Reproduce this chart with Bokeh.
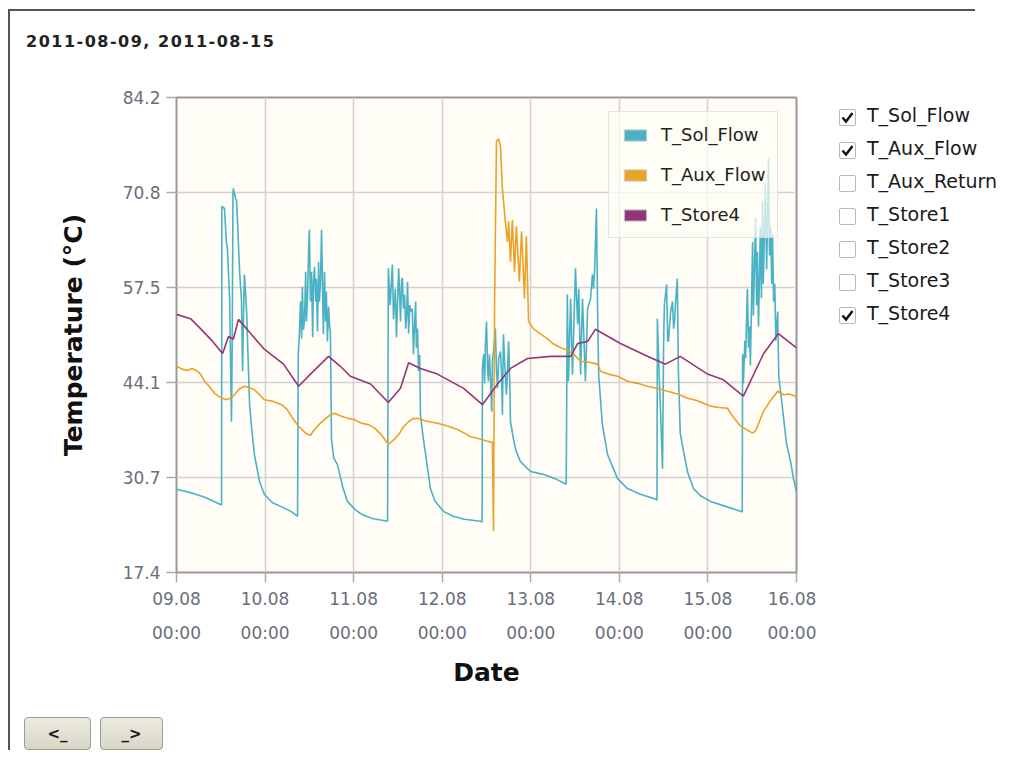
from bokeh.plotting import figure
from bokeh.models import (Range1d, FixedTicker, Legend, LegendItem, Div, Button,
                          CheckboxGroup, InlineStyleSheet)
from bokeh.layouts import column, row
from bokeh.embed import file_html
from bokeh.resources import INLINE

# ---------------- data ----------------
title_text = "2011-08-09, 2011-08-15"
series_names = ["T_Sol_Flow", "T_Aux_Flow", "T_Store4"]
series_colors = ["#4bb2c5", "#eaa228", "#953579"]
checkbox_labels = ["T_Sol_Flow", "T_Aux_Flow", "T_Aux_Return", "T_Store1",
                   "T_Store2", "T_Store3", "T_Store4"]
checkbox_active = [0, 1, 6]
button_labels = ["<_", "_>"]

# hours since 09.08 00:00
x_ticks = [0, 24, 48, 72, 96, 120, 144, 168]
x_tick_labels = ["09.08\n00:00", "10.08\n00:00", "11.08\n00:00", "12.08\n00:00",
                 "13.08\n00:00", "14.08\n00:00", "15.08\n00:00", "16.08\n00:00"]
y_ticks = [17.4, 30.7, 44.1, 57.5, 70.8, 84.2]
y_tick_labels = ["17.4", "30.7", "44.1", "57.5", "70.8", "84.2"]

# T_Sol_Flow (hour, degC)
sol_flow = [
    (0.0, 29.1), (4.0, 28.6), (8.0, 27.9), (12.2, 26.9),
    (12.3, 68.9), (13.0, 68.6), (13.5, 64.0), (13.8, 62.9), (14.4, 55.9), (14.7, 45.0),
    (14.9, 38.6), (15.1, 50.0), (15.3, 70.5), (15.4, 71.4), (16.0, 70.0), (16.3, 69.6),
    (17.1, 59.7), (17.6, 55.9), (17.9, 45.7), (18.1, 52.0), (18.4, 59.3), (19.0, 54.1),
    (19.8, 41.0),
    (20.4, 37.5), (21.1, 34.0), (22.5, 30.2), (23.8, 28.4), (26.0, 27.2), (28.2, 26.7),
    (31.0, 26.0), (32.8, 25.3),
    (33.0, 48.1), (33.3, 51.0), (33.6, 55.5), (33.9, 50.3), (34.1, 57.6), (34.4, 51.5),
    (34.7, 53.0), (35.0, 59.7), (35.2, 52.7), (35.5, 56.0), (35.8, 62.5), (36.0, 65.6),
    (36.3, 55.5), (36.6, 59.7), (36.9, 50.5), (37.1, 58.0), (37.4, 60.4), (37.7, 55.5),
    (37.9, 58.7), (38.2, 51.3), (38.5, 61.1), (38.7, 55.5), (39.0, 58.0), (39.3, 65.6),
    (39.6, 56.9), (39.8, 50.9), (40.1, 59.7), (40.4, 52.7), (40.6, 56.9), (40.9, 49.9),
    (41.2, 54.8), (41.5, 52.0), (41.7, 51.3), (42.0, 36.2),
    (42.6, 33.5), (43.6, 32.6), (45.0, 29.5), (46.3, 27.4), (48.5, 26.2), (50.1, 25.6),
    (53.0, 25.0), (57.2, 24.6),
    (57.4, 60.2), (57.9, 55.0), (58.5, 60.7), (58.8, 53.0), (59.3, 57.3), (59.6, 50.5),
    (60.2, 60.2), (60.5, 56.0), (60.7, 52.7), (61.0, 58.5), (61.2, 58.8), (61.5, 54.5),
    (61.8, 56.5), (62.1, 51.7), (62.4, 54.0), (62.6, 58.3), (62.9, 51.0), (63.2, 55.0),
    (63.4, 54.1), (63.9, 54.5), (64.2, 48.1), (64.5, 52.0), (64.8, 55.5), (65.0, 49.0),
    (65.3, 51.7), (65.6, 45.7), (65.9, 48.0), (66.1, 39.6),
    (66.8, 36.5), (67.5, 34.0), (68.8, 29.2), (70.0, 27.5), (72.3, 26.0), (75.0, 25.3),
    (78.0, 24.9), (82.4, 24.6), (82.8, 24.5),
    (82.9, 46.1), (83.2, 48.1), (83.5, 44.0), (83.7, 49.5), (84.0, 52.7), (84.3, 46.0),
    (84.5, 44.3), (84.8, 48.1), (85.1, 44.5), (85.4, 40.0), (85.6, 47.0), (86.0, 49.0),
    (86.4, 51.7), (86.7, 46.0), (87.0, 43.3), (87.3, 47.5), (87.8, 48.5), (88.1, 45.0),
    (88.3, 39.6), (88.6, 50.9), (88.9, 47.0), (89.4, 42.4), (89.7, 46.0), (90.0, 49.9),
    (90.3, 44.0), (90.5, 38.6),
    (91.3, 36.2), (92.0, 34.5), (93.2, 33.0), (95.9, 31.6), (99.4, 31.2), (103.0, 30.5),
    (105.6, 29.8),
    (105.9, 56.5), (106.2, 44.3), (106.8, 55.9), (107.3, 45.2), (108.1, 60.2), (108.7, 52.3),
    (109.0, 57.3), (109.5, 45.2), (110.0, 55.9), (110.3, 51.7), (110.8, 44.3), (111.4, 54.5),
    (112.2, 55.9), (112.7, 59.3), (113.0, 57.3), (113.3, 60.0), (113.8, 68.6), (114.1, 54.5),
    (114.4, 45.2),
    (115.4, 38.2), (116.8, 34.0), (119.5, 30.6), (122.2, 29.2), (125.7, 28.4), (129.3, 27.8),
    (130.2, 27.6),
    (130.3, 53.1), (130.8, 45.0), (131.1, 41.0), (131.5, 35.0), (131.7, 32.0), (132.0, 50.0),
    (132.2, 55.0), (132.8, 57.9), (133.1, 50.0), (133.3, 49.9), (133.9, 54.1), (134.4, 55.5),
    (134.7, 51.7), (135.0, 53.0), (135.2, 55.1), (135.7, 58.7), (136.0, 45.7), (136.5, 37.0),
    (137.4, 34.4), (138.5, 31.5), (140.1, 29.2), (142.0, 28.2), (144.7, 27.4), (148.8, 26.7),
    (152.8, 26.0), (153.3, 25.9),
    (153.4, 48.1), (153.6, 44.0), (154.0, 50.0), (154.2, 47.5), (154.7, 57.3), (155.0, 49.0),
    (155.3, 52.0), (155.5, 46.5), (155.8, 55.0), (156.1, 63.9), (156.3, 53.5), (156.6, 60.0),
    (156.9, 67.2), (157.2, 55.0), (157.4, 62.5), (157.7, 52.0), (158.0, 60.0), (158.2, 66.0),
    (158.5, 56.0), (158.8, 69.6), (159.0, 58.0), (159.3, 65.0), (159.6, 72.0), (159.9, 60.0),
    (160.2, 68.0), (160.4, 75.6), (160.7, 62.0), (161.0, 66.0), (161.3, 58.0), (161.5, 64.9),
    (161.8, 55.5), (162.1, 58.0), (162.4, 50.0), (162.9, 54.1), (163.2, 45.0),
    (164.2, 40.5), (165.3, 35.5), (166.4, 33.0), (167.2, 30.5), (168.0, 28.8),
]
sol_h = [h for h, v in sol_flow]
sol_v = [v for h, v in sol_flow]

# T_Aux_Flow
aux_h = [0, 1.5, 3.0, 4.2, 5.7, 6.5, 7.6, 9.0, 10.3, 12.0,
         13.5, 14.6, 15.7, 17.0, 18.4, 19.8, 21.1, 22.5, 23.8, 26.0,
         28.5, 30.0, 31.2, 33.0, 35.2, 36.3, 37.4, 38.8, 40.1, 41.5,
         42.8, 44.5, 46.3, 48.2, 50.1, 52.0, 53.7, 55.5, 57.4, 58.8,
         60.2, 61.5, 62.9, 64.0, 65.3, 67.5, 70.7, 73.5, 76.1, 78.0,
         79.7, 82.0, 84.0, 85.6, 85.9, 86.2, 86.7, 87.3, 87.8, 88.3,
         89.1, 89.7, 90.0, 90.5, 91.0, 91.6, 92.1, 92.9, 93.5, 94.3,
         94.8, 95.4, 96.7, 98.5, 100.5, 102.0, 104.1, 105.8, 107.6, 109.5,
         111.5, 114.1, 114.9, 117.0, 119.5, 122.2, 125.0, 127.5, 130.3, 133.0,
         135.8, 138.5, 141.0, 142.8, 144.7, 147.0, 149.3, 150.5, 152.8, 154.5,
         156.1, 157.0, 159.1, 161.0, 162.9, 164.5, 166.0, 168.0]
aux_v = [46.4, 46.0, 45.8, 46.1, 45.7, 45.3, 44.3, 43.5, 42.6, 42.0,
         41.7, 41.9, 42.4, 43.2, 43.6, 43.4, 43.1, 42.4, 41.7, 41.5,
         41.0, 40.3, 39.3, 38.0, 36.9, 36.7, 37.5, 38.3, 38.9, 39.5,
         39.8, 39.4, 39.1, 38.9, 38.4, 38.2, 37.7, 36.8, 35.4, 36.0,
         36.8, 37.9, 38.6, 39.0, 39.1, 38.7, 38.4, 38.0, 37.5, 37.0,
         36.5, 36.2, 35.9, 35.7, 23.2, 55.5, 78.0, 78.4, 77.3, 71.4,
         66.8, 63.9, 66.8, 61.1, 67.0, 59.7, 66.1, 58.3, 65.4, 55.9,
         64.7, 52.7, 51.7, 51.0, 50.3, 49.6, 49.0, 48.7, 48.1, 47.1,
         47.0, 46.7, 45.7, 45.3, 45.0, 44.3, 44.0, 43.6, 43.3, 42.9,
         42.5, 41.9, 41.6, 41.2, 40.8, 40.6, 40.5, 39.5, 38.0, 37.5,
         37.0, 37.4, 40.1, 41.6, 42.9, 42.4, 42.5, 42.1]

# T_Store4
store_h = [0, 3.8, 6.5, 9.8, 12.5, 14.1, 15.4, 16.8, 20.1, 23.6,
           26.3, 29.0, 33.1, 36.3, 41.2, 44.4, 47.1, 52.6, 57.4, 60.7,
           62.9, 66.1, 70.7, 77.8, 82.9, 87.0, 90.5, 95.1, 101.3, 106.8,
           108.7, 111.4, 113.5, 120.3, 127.6, 132.5, 136.5, 143.9, 148.2, 153.6,
           159.1, 163.1, 168.0]
store_v = [53.7, 53.1, 51.7, 49.9, 48.2, 50.6, 50.2, 53.0, 51.0, 48.9,
           47.8, 46.7, 43.6, 45.3, 47.8, 46.4, 45.0, 43.9, 41.3, 43.3,
           46.9, 46.1, 45.3, 43.3, 41.0, 43.9, 46.1, 47.5, 47.8, 47.8,
           49.6, 49.9, 51.6, 49.6, 47.8, 46.7, 47.8, 45.3, 44.5, 42.2,
           48.2, 51.0, 49.0]

# ---------------- figure ----------------
p = figure(frame_width=620, frame_height=475,
           min_border_left=166, min_border_top=36, min_border_right=20, min_border_bottom=125,
           x_range=Range1d(0, 168), y_range=Range1d(17.4, 84.2),
           output_backend="svg", toolbar_location=None,
           background_fill_color="#fffdf6", border_fill_color="white",
           outline_line_color="#999999", outline_line_width=2,
           x_axis_label="Date", y_axis_label="Temperature (°C)",
           margin=(8, 0, 0, 0))

p.xaxis.ticker = FixedTicker(ticks=x_ticks)
p.xaxis.major_label_overrides = {t: lab for t, lab in zip(x_ticks, x_tick_labels)}
p.yaxis.ticker = FixedTicker(ticks=y_ticks)
p.yaxis.major_label_overrides = {t: lab for t, lab in zip(y_ticks, y_tick_labels)}

for ax in (p.xaxis[0], p.yaxis[0]):
    ax.axis_line_color = None
    ax.major_tick_line_color = "#aaaaaa"
    ax.major_tick_line_width = 1.5
    ax.major_tick_out = 10
    ax.major_tick_in = 0
    ax.minor_tick_line_color = None
    ax.major_label_text_font = "DejaVu Sans"
    ax.major_label_text_font_size = "17px"
    ax.major_label_text_color = "#6a6e78"
    ax.axis_label_text_font = "DejaVu Sans"
    ax.axis_label_text_font_size = "25px"
    ax.axis_label_text_font_style = "bold"
    ax.axis_label_text_color = "#111111"

p.xaxis.major_label_standoff = 6
p.xaxis.major_label_text_line_height = 1.7
p.xaxis.axis_label_standoff = 12
p.yaxis.major_label_standoff = 6
p.yaxis.axis_label_standoff = 32

p.grid.grid_line_color = "#d2d2d2"
p.grid.grid_line_width = 1.5

p.line(sol_h, sol_v, line_color=series_colors[0], line_width=1.6)
p.line(aux_h, aux_v, line_color=series_colors[1], line_width=1.6)
p.line(store_h, store_v, line_color=series_colors[2], line_width=1.6)

# legend swatches: box glyphs with no drawable point (NaN), used only for the legend
nan = float("nan")
items = []
for name, col in zip(series_names, series_colors):
    sw = p.quad(left=[nan], right=[nan], top=[nan], bottom=[nan],
                fill_color=col, line_color="#cccccc", line_width=1)
    items.append(LegendItem(label=name, renderers=[sw]))
legend = Legend(items=items, location=(432, 334), margin=0, padding=12, spacing=19,
                glyph_width=28, glyph_height=14, label_height=20, label_standoff=12,
                label_text_font="DejaVu Sans", label_text_font_size="18px",
                label_text_color="#222222",
                border_line_color="#cccccc", border_line_width=1,
                background_fill_color="#fffdf6", background_fill_alpha=0.7)
p.add_layout(legend)

# ---------------- widgets ----------------
top_line = Div(text="", width=965, height=2, margin=(0, 0, 0, 0),
               styles={"background-color": "#555555"})
title_div = Div(text=title_text, width=400, height=22, margin=(20, 0, 0, 16),
                styles={"font-family": "DejaVu Sans", "font-weight": "bold",
                        "font-size": "16px", "letter-spacing": "1.5px", "color": "#222"})

check_css = InlineStyleSheet(css="""
.bk-input-group { gap: 0 !important; padding: 0 !important; }
label { display: flex !important; align-items: center !important; height: 33px !important;
        margin: 0 !important; padding: 0 !important; font-family: 'DejaVu Sans' !important;
        font-size: 19px !important; color: #1a1a1a !important; white-space: nowrap; }
input[type="checkbox"] { -webkit-appearance: none; appearance: none; flex: none;
        width: 17px; height: 17px; margin: 0 8px 0 0 !important; border: 1px solid #b8b8b8;
        border-radius: 2px; background-color: #ffffff; }
input[type="checkbox"]:checked { background-repeat: no-repeat; background-position: center;
        background-image: url("data:image/svg+xml;utf8,<svg xmlns='http://www.w3.org/2000/svg' width='17' height='17' viewBox='0 0 17 17'><path d='M3.5 8.5 L7 12.5 L13.5 4' fill='none' stroke='%23111111' stroke-width='2.4'/></svg>"); }
""")
checks = CheckboxGroup(labels=checkbox_labels, active=checkbox_active, width=175,
                       margin=(48, 0, 0, 23), stylesheets=[check_css])

btn_css = InlineStyleSheet(css="""
.bk-btn { background: linear-gradient(#ecebe0, #d7d6c6) !important; border: 1px solid #9c9c90 !important;
          border-radius: 4px !important; color: #1a1a1a !important; font-weight: bold !important;
          font-size: 15px !important; font-family: 'DejaVu Sans' !important; height: 100%; }
""")
btn_prev = Button(label=button_labels[0], width=67, height=33, margin=(20, 0, 0, 14), stylesheets=[btn_css])
btn_next = Button(label=button_labels[1], width=63, height=33, margin=(20, 0, 0, 9), stylesheets=[btn_css])

layout = column(top_line, title_div, row(p, checks), row(btn_prev, btn_next),
                margin=(9, 0, 0, 8),
                styles={"border-left": "2px solid #555555"})

open("out.html", "w").write(file_html(layout, INLINE))
